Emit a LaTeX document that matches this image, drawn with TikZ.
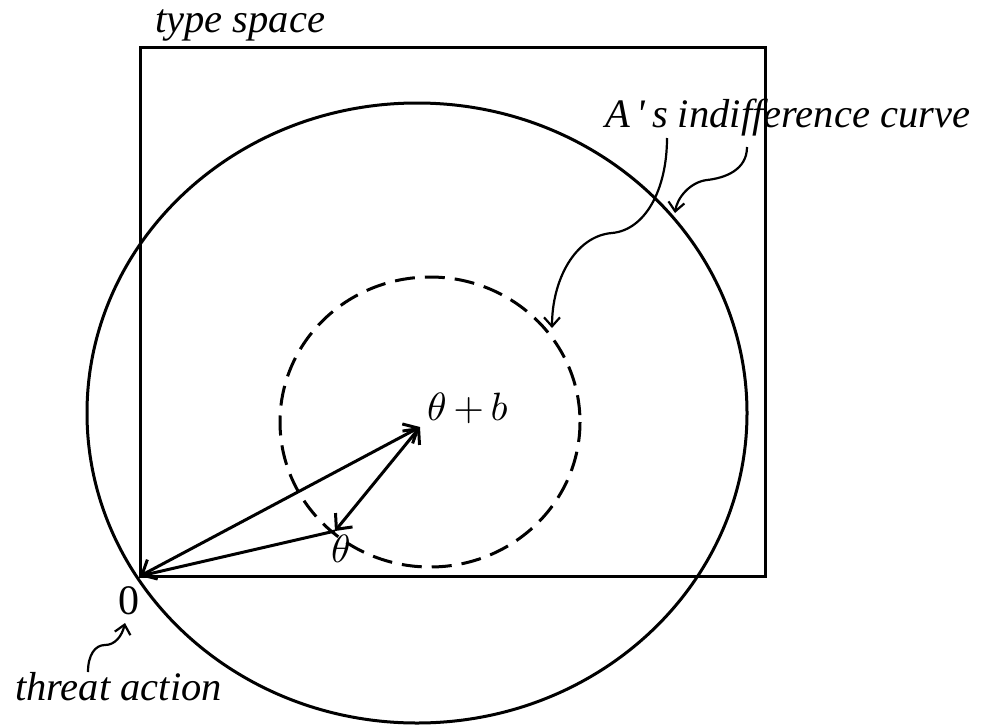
\documentclass[tikz,border=0pt]{standalone}
\usepackage{graphicx}
\usepackage{fontspec}
\setmainfont{Liberation Serif}
\usetikzlibrary{arrows.meta}
\begin{document}
\begin{tikzpicture}[x=1pt,y=-1pt,
  shapeline/.style={line width=3pt},
  vec/.style={line width=3pt},
  bihead/.style={{Straight Barb[length=12pt,width=22pt]}-{Straight Barb[length=12pt,width=22pt]}},
  pointer/.style={line width=2.2pt, -{Straight Barb[length=9pt,width=16pt]}},
  lbl/.style={font=\fontsize{40.5}{46}\selectfont\itshape, inner sep=0pt, anchor=base west},
  mth/.style={inner sep=0pt, anchor=base west}]
\useasboundingbox (0,0) rectangle (981,725);

% type space
\draw[shapeline] (140,48) rectangle (765,576);
% big indifference curve
\draw[shapeline] (417,413) ellipse [x radius=330, y radius=310];
% dashed indifference curve
\draw[shapeline, dash pattern=on 20pt off 10pt] (430,422) ellipse [x radius=150, y radius=145];

% points
\coordinate (O) at (140,576);
\coordinate (TB) at (420,427);
\coordinate (T) at (335,531);

% vectors
\draw[vec, bihead] (O) -- (TB);
\draw[vec] (O) -- (T);
\draw[vec, bihead] (T) -- (TB);

% labels
\node[lbl] (ts) at (155,33) {type space};
\node[lbl] (ai) at (605,127) {A\,\textquotesingle\,s indifference curve};
\node[mth] (ltb) at (427,420) {\scalebox{3.95}{$\theta\,{+}\,b$}};
\node[mth] (lt) at (331,562) {\scalebox{3.95}{$\theta$}};
\node[font=\fontsize{42}{46}\selectfont, inner sep=0pt] (lz) at (129,601) {0};
\node[lbl] (ta) at (15,700) {threat action};

% pointer ends
\coordinate (p1s) at (88,672);
\coordinate (p1e) at (125,623);
\coordinate (p2s) at (667,138);
\coordinate (p2e) at (552,328);
\coordinate (p3s) at (747,147);
\coordinate (p3e) at (675,213);

\draw[pointer] (p1s) .. controls (88,655) and (95,645) .. (105,645)
   .. controls (115,645) and (122,636) .. (p1e);
\draw[pointer] (p2s) .. controls (667,190) and (645,230) .. (612,233)
   .. controls (575,236) and (552,280) .. (p2e);
\draw[pointer] (p3s) .. controls (747,170) and (725,178) .. (707,180)
   .. controls (690,182) and (677,198) .. (p3e);
\end{tikzpicture}
\end{document}
